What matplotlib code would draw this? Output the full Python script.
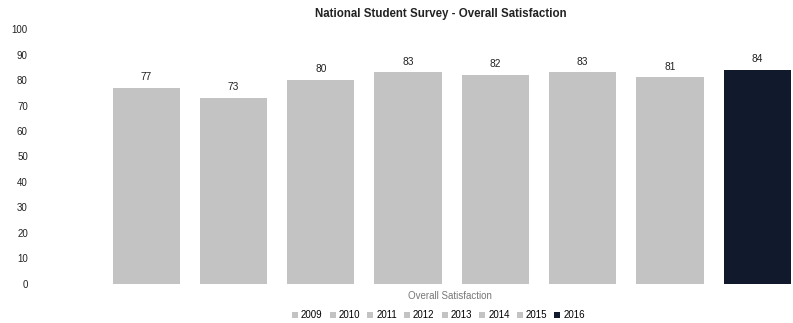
import matplotlib.pyplot as plt

plt.rcParams['font.family'] = ['Liberation Sans', 'DejaVu Sans']

# survey results by year
years = ['2009', '2010', '2011', '2012', '2013', '2014', '2015', '2016']
scores = [77, 73, 80, 83, 82, 83, 81, 84]
colors = ['#c3c3c3'] * 7 + ['#111a2c']

fig = plt.figure(figsize=(7.93, 3.23), dpi=100)
ax = fig.add_axes([0.05, 0.121, 0.95, 0.789])

bars = []
for i, (yr, val, c) in enumerate(zip(years, scores, colors)):
    b = ax.bar(i, val, width=0.77, color=c, label=yr)
    bars.append(b)
    ax.text(i, val + 2.2, str(val), ha='center', va='bottom', fontsize=7.3, color='#222222')

ax.set_ylim(0, 100)
ax.set_xlim(-1.22, 7.41)
ax.set_yticks(range(0, 101, 10))
ax.tick_params(axis='y', length=0, labelsize=7, colors='#222222', pad=8.5)
ax.set_xticks([])
for s in ax.spines.values():
    s.set_visible(False)

fig.text(0.556, 0.957, 'National Student Survey - Overall Satisfaction',
         ha='center', va='center', fontsize=8.3, fontweight='bold', color='#222222')
fig.text(0.567, 0.083, 'Overall Satisfaction', ha='center', va='center',
         fontsize=7, color='#777777')

fig.legend(handles=[b[0] for b in bars], labels=years, loc='center',
           bbox_to_anchor=(0.553, 0.024), ncol=8, frameon=False, fontsize=7,
           handlelength=0.6, handleheight=0.6, handletextpad=0.3, columnspacing=0.75)

plt.savefig('out.png', dpi=100)
